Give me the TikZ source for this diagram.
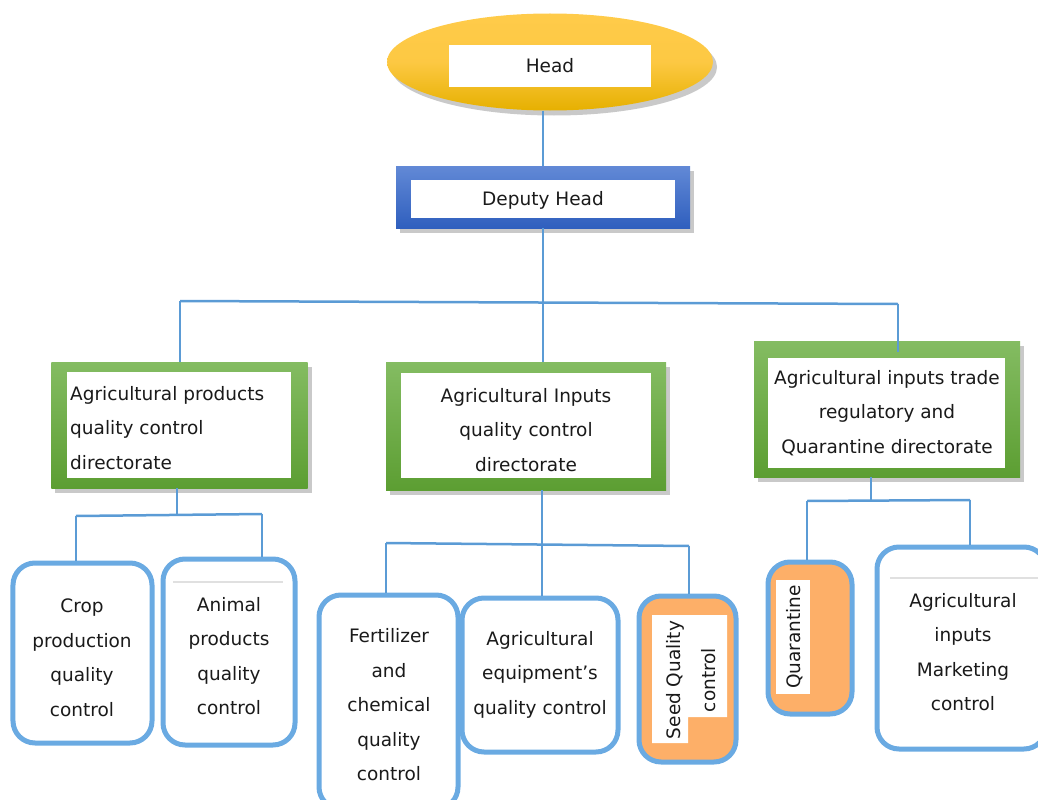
\documentclass[tikz,border=0pt]{standalone}
\usepackage{fontspec}
\setmainfont{DejaVu Sans}
\usetikzlibrary{shadows,shapes.geometric}
\definecolor{lineblue}{HTML}{5B9BD5}
\definecolor{boxblue}{HTML}{6AAAE2}
\definecolor{orangefill}{HTML}{FDAF68}
\definecolor{greentop}{HTML}{84BC62}
\definecolor{greenbot}{HTML}{5C9E32}
\definecolor{bluetop}{HTML}{6289D6}
\definecolor{bluebot}{HTML}{2F5FBE}
\definecolor{goldtop}{HTML}{FFCB4A}
\definecolor{goldbot}{HTML}{E6B000}
\definecolor{txt}{HTML}{1A1A1A}
\begin{document}
\begin{tikzpicture}[x=1bp,y=-1bp,
  conn/.style={draw=lineblue,line width=2.5bp},
  shad/.style={drop shadow={shadow xshift=4bp,shadow yshift=-5bp,opacity=0.3,fill=black!70}},
  greenbox/.style={rectangle,shad,top color=greentop,bottom color=greenbot,draw=none,inner sep=0pt},
  whitebox/.style={rectangle,fill=white,draw=none,inner sep=0pt},
  lbl/.style={text=txt,font=\fontsize{18.5bp}{34.5bp}\selectfont,align=center,inner sep=0pt},
  leaf/.style={rectangle,rounded corners=22bp,draw=boxblue,line width=5bp,fill=white,inner sep=0pt},
  orangeleaf/.style={leaf,fill=orangefill},
  greyrule/.style={draw=black!12,line width=1.5bp}
]
\useasboundingbox (0,0) rectangle (1038,800);

% ---------- top ----------
\node[ellipse,shad,minimum width=326bp,minimum height=97bp,inner sep=0pt,
  top color=goldtop,bottom color=goldbot,middle color=goldtop!90!goldbot] (headE) at (550,62) {};
\node[whitebox,minimum width=202bp,minimum height=42bp] (headW) at (550,66) {};
\node[lbl] (head) at (550,66) {Head};

\node[rectangle,shad,top color=bluetop,bottom color=bluebot,inner sep=0pt,
  minimum width=294bp,minimum height=62bp] (depO) at (543,197) {};
\node[whitebox,minimum width=264bp,minimum height=38bp] (depW) at (543,199) {};
\node[lbl] (dep) at (543,200) {Deputy Head};

% ---------- connectors level 1 ----------
\coordinate (barL) at (180,301);
\coordinate (barR) at (898,304);
\coordinate (barM) at (543,302.5);

% ---------- directorates ----------
\node[greenbox,minimum width=256bp,minimum height=126bp] (g1) at (179.5,425) {};
\node[whitebox,minimum width=224bp,minimum height=106bp] (g1W) at (179,425) {};
\node[lbl,align=left,anchor=west] (g1t) at (70,428)
  {Agricultural products\\quality control\\directorate};

\node[greenbox,minimum width=280bp,minimum height=128bp] (g2) at (526,426) {};
\node[whitebox,minimum width=250bp,minimum height=105bp] (g2W) at (526,425.5) {};
\node[lbl] (g2t) at (526,430)
  {Agricultural Inputs\\quality control\\directorate};

\node[greenbox,minimum width=266bp,minimum height=136bp] (g3) at (887,409) {};
\node[whitebox,minimum width=237bp,minimum height=110bp] (g3W) at (886.5,413) {};
\node[lbl] (g3t) at (887,413)
  {Agricultural inputs trade\\regulatory and\\Quarantine directorate};

\draw[conn] (headE.south -| depO.north) -- (depO.north);
\draw[conn] (depO.south) -- (barM) -- (barM |- g2.north);
\draw[conn] (barL) -- (barR);
\draw[conn] (barL) -- (barL |- g1.north);
\draw[conn] (barR) -- (898,352);

% ---------- leaves ----------
\node[leaf,minimum width=139bp,minimum height=180bp] (crop) at (82.5,653) {};
\node[lbl] (cropt) at (82,658) {Crop\\production\\quality\\control};

\node[leaf,minimum width=132bp,minimum height=186bp] (anim) at (229,652) {};
\coordinate (animRa) at (173,582);
\coordinate (animRb) at (283,582);
\draw[greyrule] (animRa) -- (animRb);
\node[lbl] (animt) at (229,656) {Animal\\products\\quality\\control};

\node[leaf,minimum width=139bp,minimum height=214bp] (fert) at (388.5,702) {};
\node[lbl] (fertt) at (389,705) {Fertilizer\\and\\chemical\\quality\\control};

\node[leaf,minimum width=156bp,minimum height=154bp] (equip) at (540,675) {};
\node[lbl] (equipt) at (540,674.5) {Agricultural\\equipment’s\\quality control};

\node[orangeleaf,minimum width=97bp,minimum height=166bp] (seed) at (687.5,679) {};
\fill[white] (652,615) -- (727,615) -- (727,717) -- (688,717) -- (688,743) -- (652,743) -- cycle;
\node[lbl,rotate=90] (seedt) at (691,680) {Seed Quality\\control};

\node[orangeleaf,minimum width=84bp,minimum height=152bp] (quar) at (810,638) {};
\node[whitebox,minimum width=34bp,minimum height=114bp] (quarW) at (793,637) {};
\node[lbl,rotate=90] (quart) at (795,637) {Quarantine};

\node[leaf,minimum width=169bp,minimum height=202bp] (mark) at (961.5,648) {};
\coordinate (markRa) at (890,578);
\coordinate (markRb) at (1038,578);
\draw[greyrule] (markRa) -- (markRb);
\node[lbl] (markt) at (963,652) {Agricultural\\inputs\\Marketing\\control};

% ---------- connectors level 2 ----------
\coordinate (jL) at (177,515);
\coordinate (bL1) at (76,516);
\coordinate (bL2) at (262,514);
\draw[conn] (g1.south -| jL) -- (jL);
\draw[conn] (bL1) -- (bL2);
\draw[conn] (bL1) -- (bL1 |- crop.north);
\draw[conn] (bL2) -- (bL2 |- anim.north);

\coordinate (jM) at (542,544);
\coordinate (bM1) at (386,543);
\coordinate (bM3) at (689,546);
\draw[conn] (g2.south -| jM) -- (jM);
\draw[conn] (bM1) -- (bM3);
\draw[conn] (bM1) -- (bM1 |- fert.north);
\draw[conn] (jM) -- (jM |- equip.north);
\draw[conn] (bM3) -- (bM3 |- seed.north);

\coordinate (jR) at (871,501);
\coordinate (bR1) at (807,501);
\coordinate (bR2) at (970,500);
\draw[conn] (g3.south -| jR) -- (jR);
\draw[conn] (bR1) -- (bR2);
\draw[conn] (bR1) -- (bR1 |- quar.north);
\draw[conn] (bR2) -- (bR2 |- mark.north);
\end{tikzpicture}
\end{document}
